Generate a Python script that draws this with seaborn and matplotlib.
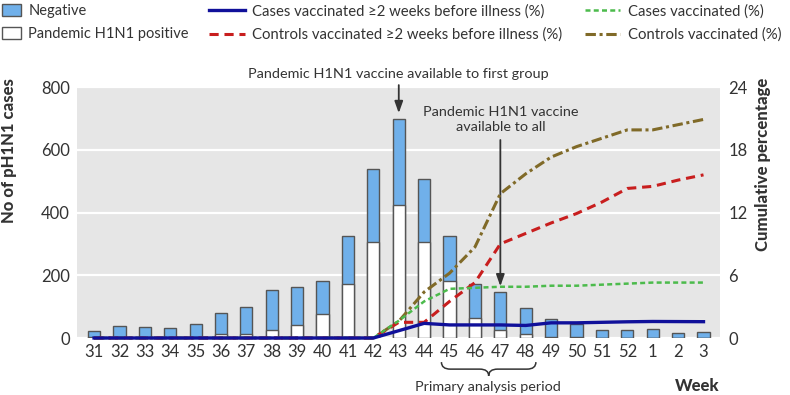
import matplotlib
matplotlib.use("Agg")
import matplotlib.pyplot as plt
import matplotlib.transforms as mtransforms
from matplotlib.path import Path
from matplotlib.patches import Patch, PathPatch
from matplotlib.lines import Line2D
import seaborn as sns

# ======================================
# Datos
# ======================================

weeks = ["31", "32", "33", "34", "35", "36", "37", "38", "39", "40", "41", "42",
         "43", "44", "45", "46", "47", "48", "49", "50", "51", "52", "1", "2", "3"]

total_cases = [23, 39, 34, 31, 45, 79, 100, 154, 161, 181, 325, 540,
               699, 506, 326, 172, 146, 95, 61, 45, 24, 24, 29, 15, 19]
positive_cases = [3, 0, 0, 0, 0, 13, 14, 25, 42, 75, 172, 307,
                  424, 305, 181, 64, 26, 14, 2, 3, 0, 0, 0, 0, 0]

cases_vacc_2w = [0, 0, 0, 0, 0, 0, 0, 0, 0, 0, 0, 0,
                 0.7, 1.4, 1.25, 1.25, 1.25, 1.2, 1.45, 1.45, 1.5, 1.55, 1.58, 1.57, 1.56]
controls_vacc_2w = [0, 0, 0, 0, 0, 0, 0, 0, 0, 0, 0, 0,
                    1.5, 1.5, 3.5, 5.3, 9.0, 10.0, 11.0, 11.9, 13.0, 14.3, 14.5, 15.1, 15.6]
cases_vacc = [0, 0, 0, 0, 0, 0, 0, 0, 0, 0, 0, 0,
              1.65, 3.5, 4.7, 4.8, 4.9, 4.9, 5.0, 5.0, 5.1, 5.2, 5.3, 5.3, 5.3]
controls_vacc = [0, 0, 0, 0, 0, 0, 0, 0, 0, 0, 0, 0,
                 1.6, 4.4, 6.2, 8.7, 13.8, 15.7, 17.3, 18.3, 19.1, 19.9, 19.9, 20.4, 20.9]

left_ticks = [0, 200, 400, 600, 800]
right_ticks = [0, 6, 12, 18, 24]

# ======================================
# Estilo
# ======================================

plt.rcParams["font.family"] = ["Lato", "DejaVu Sans"]

color_neg = "#70b0ea"
color_edge = "#555555"
color_text = "#333333"
c_blue = "#10109a"
c_red = "#c81e1e"
c_green = "#4cbb4c"
c_brown = "#806a28"

ls_red = (0, (3.0, 1.9))
ls_green = (0, (2.0, 1.3))
ls_brown = (0, (3.4, 1.2, 1.0, 1.2))

fig = plt.figure(figsize=(7.9, 3.95), dpi=100)
ax = fig.add_axes([0.0975, 0.1443, 0.8139, 0.6354])
ax.set_facecolor("#e6e6e6")

# ==========================
# Barras
# ==========================

sns.barplot(x=weeks, y=total_cases, order=weeks, color=color_neg, saturation=1,
            width=0.48, edgecolor=color_edge, linewidth=1, ax=ax, zorder=2)
sns.barplot(x=weeks, y=positive_cases, order=weeks, color="white", saturation=1,
            width=0.48, edgecolor=color_edge, linewidth=1, ax=ax, zorder=3)

ax.set_xlim(-0.67, 24.65)
ax.set_ylim(0, 800)
ax.set_yticks(left_ticks)
ax.yaxis.grid(True, color="white", linewidth=1.6)
ax.set_axisbelow(True)
ax.set_xlabel("")
ax.set_ylabel("")
for s in ax.spines.values():
    s.set_visible(False)
ax.tick_params(length=0, labelsize=12, colors=color_text)
ax.tick_params(axis="y", pad=5)
ax.tick_params(axis="x", pad=4)

# ==========================
# Lineas (eje derecho)
# ==========================

ax2 = ax.twinx()
idx = list(range(len(weeks)))
sns.lineplot(x=idx, y=controls_vacc, ax=ax2, color=c_brown, linewidth=2.2,
             linestyle=ls_brown, clip_on=False)
sns.lineplot(x=idx, y=controls_vacc_2w, ax=ax2, color=c_red, linewidth=2.2,
             linestyle=ls_red, clip_on=False)
sns.lineplot(x=idx, y=cases_vacc, ax=ax2, color=c_green, linewidth=1.8,
             linestyle=ls_green, clip_on=False)
sns.lineplot(x=idx, y=cases_vacc_2w, ax=ax2, color=c_blue, linewidth=2.4,
             clip_on=False)

ax2.set_ylim(0, 24)
ax2.set_yticks(right_ticks)
ax2.set_xlim(-0.67, 24.65)
for s in ax2.spines.values():
    s.set_visible(False)
ax2.tick_params(length=0, labelsize=12, colors=color_text, pad=6)
ax2.set_ylabel("")

# ==========================
# Anotaciones
# ==========================

arrow_kw = dict(arrowstyle="-|>,head_width=0.25,head_length=0.7", color="#333333", lw=1.3)
ax.text(12, 843, "Pandemic H1N1 vaccine available to first group", ha="center",
        va="center", fontsize=10.4, color=color_text, clip_on=False)
ax.annotate("", xy=(12, 708), xytext=(12, 815), arrowprops=arrow_kw, annotation_clip=False)

ax.text(16, 697, "Pandemic H1N1 vaccine\navailable to all", ha="center", va="center",
        fontsize=10.4, color=color_text, linespacing=1.35)
ax.annotate("", xy=(16, 156), xytext=(16, 640), arrowprops=arrow_kw)

# llave bajo el periodo de analisis
trans = mtransforms.blended_transform_factory(ax.transData, ax.transAxes)
x0, x1 = 13.68, 17.4
xc = (x0 + x1) / 2
yt, ym, yb = -0.096, -0.124, -0.151
verts = [(x0, yt), (x0, ym), (x0 + 0.35, ym),
         (xc - 0.35, ym), (xc, ym), (xc, yb),
         (xc, ym), (xc + 0.35, ym),
         (x1 - 0.35, ym), (x1, ym), (x1, yt)]
codes = [Path.MOVETO, Path.CURVE3, Path.CURVE3,
         Path.LINETO, Path.CURVE3, Path.CURVE3,
         Path.CURVE3, Path.CURVE3,
         Path.LINETO, Path.CURVE3, Path.CURVE3]
ax.add_patch(PathPatch(Path(verts, codes), transform=trans, fill=False,
                       edgecolor=color_text, lw=1.1, clip_on=False))
ax.text(15.53, -0.195, "Primary analysis period", transform=trans, ha="center",
        va="center", fontsize=10.4, color=color_text)
ax.text(1.0, -0.19, "Week", transform=ax.transAxes, ha="right", va="center",
        fontsize=12, fontweight="black", color=color_text)

# titulos de ejes
fig.text(0.011, 0.803, "No of pH1N1 cases", rotation=90, ha="center", va="top",
         fontsize=12, fontweight="black", color=color_text)
fig.text(0.966, 0.803, "Cumulative percentage", rotation=90, ha="center", va="top",
         fontsize=12, fontweight="black", color=color_text)

# ==========================
# Leyendas
# ==========================

bar_handles = [Patch(facecolor=color_neg, edgecolor=color_edge, lw=1),
               Patch(facecolor="white", edgecolor=color_edge, lw=1)]
fig.legend(bar_handles, ["Negative", "Pandemic H1N1 positive"], loc="upper left",
           bbox_to_anchor=(0.0, 0.995), frameon=False, fontsize=10.5,
           handlelength=1.3, handleheight=0.9, handletextpad=0.5,
           labelspacing=0.62, borderpad=0.15, borderaxespad=0, labelcolor=color_text)

line_handles = [Line2D([], [], color=c_blue, lw=2.4),
                Line2D([], [], color=c_red, lw=2.2, linestyle=ls_red),
                Line2D([], [], color=c_green, lw=1.8, linestyle=ls_green),
                Line2D([], [], color=c_brown, lw=2.2, linestyle=ls_brown)]
line_labels = ["Cases vaccinated \u22652 weeks before illness (%)",
               "Controls vaccinated \u22652 weeks before illness (%)",
               "Cases vaccinated (%)",
               "Controls vaccinated (%)"]
fig.legend(line_handles, line_labels, loc="upper left", ncol=2,
           bbox_to_anchor=(0.262, 0.995), frameon=False, fontsize=10.7,
           handlelength=2.4, handletextpad=0.5, columnspacing=1.5,
           labelspacing=0.6, borderpad=0.15, borderaxespad=0, labelcolor=color_text)

plt.savefig("out.png", dpi=100)
plt.close()
